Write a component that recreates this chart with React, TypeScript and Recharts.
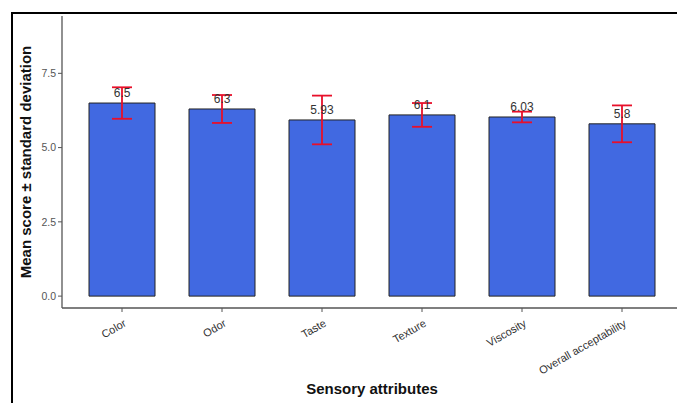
import { BarChart, Bar, XAxis, YAxis, ErrorBar, LabelList } from "recharts";

const attributes = ["Color", "Odor", "Taste", "Texture", "Viscosity", "Overall acceptability"];
const meanScores = [6.5, 6.3, 5.93, 6.1, 6.03, 5.8];
const sdScores = [0.53, 0.47, 0.82, 0.4, 0.18, 0.62];
const yTicks = [0, 2.5, 5, 7.5];

const data = attributes.map((name, i) => ({
  name,
  mean: meanScores[i],
  sd: sdScores[i],
}));

const font = "Liberation Sans, Arial, sans-serif";

function AngledTick(props: any) {
  const { x, y, payload } = props;
  return (
    <g transform={`translate(${x + 3},${y + 8})`}>
      <text
        textAnchor="end"
        transform="rotate(-30)"
        fontSize={11}
        fill="#333"
        fontFamily={font}
        dy={4}
      >
        {payload.value}
      </text>
    </g>
  );
}

function YTitle(props: any) {
  const { viewBox } = props;
  const cy = viewBox.y + viewBox.height / 2;
  return (
    <text
      x={31}
      y={cy}
      transform={`rotate(-90, 31, ${cy})`}
      textAnchor="middle"
      fontSize={15}
      fontWeight="bold"
      fill="#111"
      fontFamily={font}
    >
      Mean score ± standard deviation
    </text>
  );
}

function XTitle(props: any) {
  const { viewBox } = props;
  const cx = viewBox.x + viewBox.width / 2;
  return (
    <text
      x={cx}
      y={394}
      textAnchor="middle"
      fontSize={15}
      fontWeight="bold"
      fill="#111"
      fontFamily={font}
    >
      Sensory attributes
    </text>
  );
}

export default function App() {
  return (
    <div
      style={{
        position: "absolute",
        left: 0,
        top: 0,
        width: 677,
        height: 403,
        overflow: "hidden",
        background: "#fff",
      }}
    >
      <div
        style={{
          position: "absolute",
          left: 11,
          top: 12,
          width: 700,
          height: 420,
          borderLeft: "2.5px solid #000",
          borderTop: "2.5px solid #000",
        }}
      />
      <div style={{ position: "absolute", left: 0, top: 0 }}>
        <BarChart
          width={700}
          height={403}
          data={data}
          margin={{ top: 16, right: 18, bottom: 0, left: 12 }}
        >
          <XAxis
            dataKey="name"
            height={95}
            padding={{ left: 10, right: 10 }}
            tick={<AngledTick />}
            tickSize={4}
            interval={0}
            axisLine={{ stroke: "#555", strokeWidth: 1.3 }}
            tickLine={{ stroke: "#555" }}
            label={<XTitle />}
          />
          <YAxis
            width={50}
            domain={[-0.4, 9.43]}
            ticks={yTicks}
            tickFormatter={(v: number) => v.toFixed(1)}
            tickSize={4}
            tickMargin={2}
            tick={{ fontSize: 10.5, fill: "#555", fontFamily: font }}
            axisLine={{ stroke: "#555", strokeWidth: 1.3 }}
            tickLine={{ stroke: "#555" }}
            label={<YTitle />}
          />
          <Bar
            dataKey="mean"
            fill="#4169E1"
            stroke="#222"
            strokeWidth={1}
            barSize={66}
            isAnimationActive={false}
          >
            <LabelList
              dataKey="mean"
              position="top"
              offset={6}
              fontSize={12}
              fill="#333"
              fontFamily={font}
            />
            <ErrorBar dataKey="sd" width={10} stroke="#e8102a" strokeWidth={1.8} />
          </Bar>
        </BarChart>
      </div>
    </div>
  );
}
